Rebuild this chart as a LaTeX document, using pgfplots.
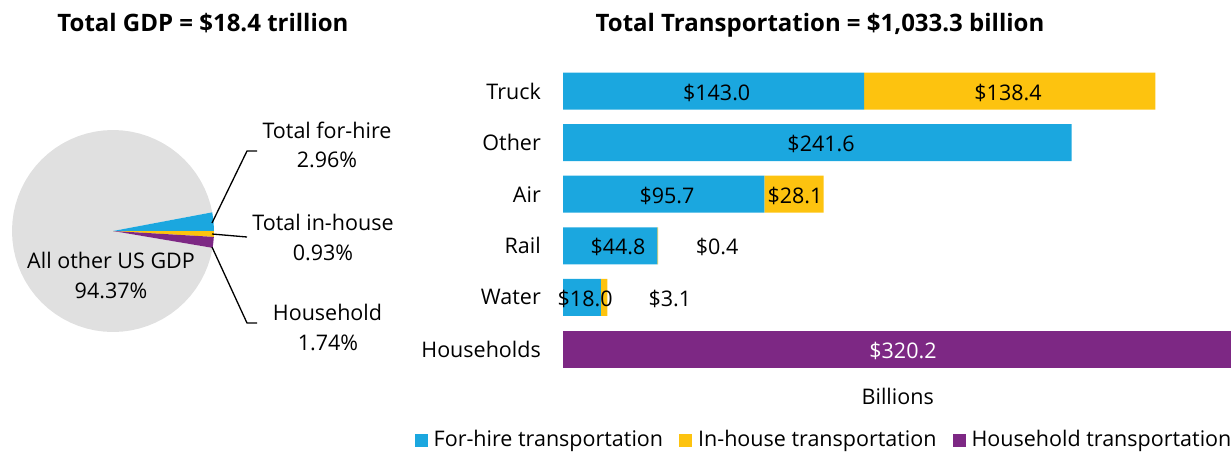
\documentclass[border=0pt]{standalone}
\usepackage{fontspec}
\setmainfont{Open Sans}
\usepackage{pgfplots}
\pgfplotsset{compat=1.18}
\usepgfplotslibrary{polar}

\definecolor{hireblue}{HTML}{1BA7DF}
\definecolor{housegold}{HTML}{FDC30F}
\definecolor{hhpurple}{HTML}{7D2884}
\definecolor{piegrey}{HTML}{E0E0E0}

\pgfplotsset{
  sqlegend/.style={legend image code/.code={\fill[##1] (0pt,-6.5pt) rectangle (13pt,6.5pt);}},
  barframe/.style={
    at={(563pt,-374.8pt)}, anchor=south west,
    x=2.105pt, y=51.6pt,
    xmin=0, xmax=320.2, ymin=-0.5, ymax=5.5, clip=false},
}
\tikzset{barlbl/.style={anchor=base, yshift=-9pt}}

\begin{document}
\fontsize{21.5}{26}\selectfont
\begin{tikzpicture}
\useasboundingbox (0,0) rectangle (1231pt,-451pt);

% titles
\node[anchor=base] at (203pt,-31pt) {\fontsize{24}{28}\selectfont\bfseries Total GDP = \$18.4 trillion};
\node[anchor=base] at (820pt,-31pt) {\fontsize{24}{28}\selectfont\bfseries Total Transportation = \$1,033.3 billion};

% ---- pie (radius 101, units in pt) ----
\begin{axis}[
    at={(-2pt,-361pt)}, anchor=south west,
    x=1pt, y=1pt,
    xmin=-115, xmax=300, ymin=-130, ymax=110,
    hide axis, clip=false,
  ]
  \addplot[fill=piegrey, draw=none, data cs=polar] coordinates {
    (0,0) (10.66,101) (15,101) (20,101) (25,101) (30,101) (35,101) (40,101)
    (45,101) (50,101) (55,101) (60,101) (65,101) (70,101) (75,101) (80,101)
    (85,101) (90,101) (95,101) (100,101) (105,101) (110,101) (115,101)
    (120,101) (125,101) (130,101) (135,101) (140,101) (145,101) (150,101)
    (155,101) (160,101) (165,101) (170,101) (175,101) (180,101) (185,101)
    (190,101) (195,101) (200,101) (205,101) (210,101) (215,101) (220,101)
    (225,101) (230,101) (235,101) (240,101) (245,101) (250,101) (255,101)
    (260,101) (265,101) (270,101) (275,101) (280,101) (285,101) (290,101)
    (295,101) (300,101) (305,101) (310,101) (315,101) (320,101) (325,101)
    (330,101) (335,101) (340,101) (345,101) (350,101) (350.39,101)};
  \addplot[fill=hireblue, draw=none, data cs=polar] coordinates {
    (0,0) (0,101) (5.33,101) (10.66,101)};
  \addplot[fill=housegold, draw=none, data cs=polar] coordinates {
    (0,0) (-3.35,101) (-1.67,101) (0,101)};
  \addplot[fill=hhpurple, draw=none, data cs=polar] coordinates {
    (0,0) (-9.61,101) (-6.48,101) (-3.35,101)};

  % leader lines
  \addplot[black, line width=1.3pt] coordinates {(99,8) (134,80) (144,80)};
  \addplot[black, line width=1.3pt] coordinates {(99,-3) (134,-6)};
  \addplot[black, line width=1.3pt] coordinates {(99,-16) (134,-92) (144,-92)};

  \node[anchor=base] at (axis cs:214,93) {Total for-hire};
  \node[anchor=base] at (axis cs:214,64) {2.96\%};
  \node[anchor=base] at (axis cs:210,1) {Total in-house};
  \node[anchor=base] at (axis cs:210,-29) {0.93\%};
  \node[anchor=base] at (axis cs:214.5,-89) {Household};
  \node[anchor=base] at (axis cs:215,-119) {1.74\%};
  \node[anchor=base] at (axis cs:-2,-37) {All other US GDP};
  \node[anchor=base] at (axis cs:-2,-67) {94.37\%};
\end{axis}

% ---- stacked bars ----
\begin{axis}[
    barframe,
    xbar stacked, bar width=37pt,
    axis line style={draw=none},
    major tick style={draw=none},
    xtick=\empty,
    ytick={0,1,2,3,4,5},
    yticklabels={Households,Water,Rail,Air,Other,Truck},
    yticklabel style={anchor=east, inner sep=0pt, xshift=-22pt},
    legend columns=3,
    legend style={at={(0.3858,-0.2106)}, anchor=center, draw=none, fill=none,
      /tikz/every odd column/.append style={column sep=6pt},
      /tikz/every even column/.append style={column sep=16pt},
      nodes={inner sep=0pt}},
    legend cell align=left,
    sqlegend,
  ]
  \addplot[fill=hireblue, draw=none] coordinates {
    (0,0) (18.0,1) (44.8,2) (95.7,3) (241.6,4) (143.0,5)};
  \addplot[fill=housegold, draw=none] coordinates {
    (0,0) (3.1,1) (0.4,2) (28.1,3) (0,4) (138.4,5)};
  \addplot[fill=hhpurple, draw=none] coordinates {
    (320.2,0) (0,1) (0,2) (0,3) (0,4) (0,5)};
  \legend{For-hire transportation, In-house transportation, Household transportation}
\end{axis}

% ---- value labels, over the bars ----
\begin{axis}[barframe, hide axis]
  \node[barlbl] at (axis cs:73.0,5) {\$143.0};
  \node[barlbl] at (axis cs:211.4,5) {\$138.4};
  \node[barlbl] at (axis cs:122.6,4) {\$241.6};
  \node[barlbl] at (axis cs:49.4,3) {\$95.7};
  \node[barlbl] at (axis cs:110.2,3) {\$28.1};
  \node[barlbl] at (axis cs:26.1,2) {\$44.8};
  \node[barlbl] at (axis cs:73.2,2) {\$0.4};
  \node[barlbl] at (axis cs:10.5,1) {\$18.0};
  \node[barlbl] at (axis cs:50.8,1) {\$3.1};
  \node[barlbl, text=white] at (axis cs:161.5,0) {\$320.2};
  \node[barlbl] at (axis cs:159,-0.9) {Billions};
\end{axis}
\end{tikzpicture}
\end{document}
